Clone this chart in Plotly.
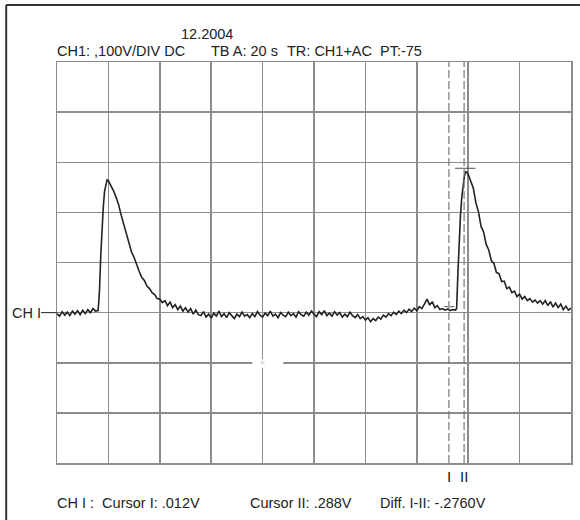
import plotly.graph_objects as go

# ---------------- data (read from the scope print) ----------------
time_s = [
    0, 1, 2, 3, 4, 5, 6, 7, 8, 9, 10, 11, 12, 13, 14, 15, 16,
    16.5, 17, 17.5, 18, 18.5, 19, 19.5,
    20, 21, 22, 23, 24, 25, 26, 27, 28, 29, 30, 31, 32, 33, 34, 35, 36, 37, 38, 39,
    40, 41, 42, 43, 44, 45, 46, 47, 48, 49, 50, 51, 52, 53, 54, 55,
    56, 57, 58, 59, 60, 61, 62, 63, 64, 65, 66, 67, 68, 69, 70, 71, 72, 73, 74, 75,
    76, 77, 78, 79, 80, 81, 82, 83, 84, 85, 86, 87, 88, 89, 90, 91, 92, 93, 94, 95,
    96, 97, 98, 99, 100, 101, 102, 103, 104, 105, 106, 107, 108, 109, 110, 111, 112,
    113, 114, 115, 116, 117, 118, 119, 120, 121, 122, 123, 124, 125, 126, 127, 128,
    129, 130, 131, 132, 133, 134, 135, 136, 137, 138, 139, 140, 141, 142, 143, 144,
    145, 146, 147, 148, 149, 150, 151, 152, 153, 154, 155,
    155.5, 156, 156.5, 157, 157.5, 158, 158.5, 159, 159.5,
    160, 161, 162, 163, 164, 165, 166, 167, 168, 169, 170, 171, 172, 173, 174, 175,
    176, 177, 178, 179, 180, 181, 182, 183, 184, 185, 186, 187, 188, 189, 190, 191,
    192, 193, 194, 195, 196, 197, 198, 199, 200,
]
ch1_volts = [
    -2, -7, 2, -5, 1, -6, 3, -3, 4, -4, 5, -2, 6, 0, 8, 3, 4,
    40, 110, 170, 210, 242, 258, 265,
    263, 254, 243, 230, 215, 194, 177, 155, 140, 121, 110, 94, 82, 70, 64, 53, 48, 40, 36, 28,
    27, 20, 24, 14, 21, 10, 16, 6, 13, 3, 10, 1, 8, -3, 5, -4,
    -6, 2, -9, -3, -11, -1, -7, 3, -8, -2, -10, 0, -6, -12, -3, -8, 1, -7, -4, -10,
    -2, -8, 2, -5, -9, -1, -6, 3, -7, -3, -10, 0, -5, -8, 1, -6, -2, -9, 2, -4,
    -7, 1, -5, 3, -3, -8, 2, -4, 4, -6, -1, -7, 2, -5, 0, -9, -3,
    -8, 1, -6, -10, -4, -12, -8, -15, -10, -18, -12, -16, -9, -13, -5, -9,
    -2, -6, 1, -4, 3, -2, 5, 0, 7, 2, 9, 4, 12, 8, 18, 27,
    15, 22, 10, 14, 6, 8, 5, 7, 4, 6, 5,
    8, 80, 145, 195, 230, 258, 272, 281, 280,
    276, 261, 248, 219, 201, 172, 161, 136, 125, 104, 98, 80, 78, 62, 63, 48,
    51, 40, 43, 32, 37, 27, 32, 24, 28, 21, 25, 19, 24, 17, 24, 14,
    22, 11, 19, 10, 17, 6, 13, 5, 9,
]
assert len(time_s) == len(ch1_volts)

cursor_names = ["I", "II"]
cursor_times = [152.5, 158.4]     # s
cursor_levels = [12, 288]         # V

header_date = "12.2004"
header_parts = ["CH1: ,100V/DIV DC", "TB A: 20 s", "TR: CH1+AC", "PT:-75"]
footer_parts = ["CH I :  Cursor I: .012V", "Cursor II: .288V", "Diff. I-II: -.2760V"]
channel_label = "CH I"

# ---------------- layout geometry ----------------
W, H = 580, 520
L, R, T, B = 57, 7, 62, 57
PW, PH = W - L - R, H - T - B


def px(x):
    return (x - L) / PW


def py(y):
    return (H - B - y) / PH


GRID = "#8c8c8c"
INK = "#222222"
FONT = "Liberation Sans, Arial, Helvetica, sans-serif"

fig = go.Figure()
fig.add_trace(go.Scatter(x=time_s, y=ch1_volts, mode="lines",
                         line=dict(color=INK, width=1.6), hoverinfo="skip",
                         showlegend=False))

axis_common = dict(showticklabels=False, ticks="", zeroline=False,
                   showgrid=True, gridcolor=GRID, gridwidth=1.5,
                   showline=True, mirror=True, linecolor=GRID, linewidth=1.5,
                   fixedrange=True)
fig.update_xaxes(range=[0, 200], dtick=20, tick0=0, **axis_common)
fig.update_yaxes(range=[-300, 500], dtick=100, tick0=-300, **axis_common)

shapes = []
# outer frame (top and left edge)
shapes.append(dict(type="line", xref="paper", yref="paper",
                   x0=px(6), x1=px(582), y0=py(5), y1=py(5),
                   line=dict(color="#333333", width=2)))
shapes.append(dict(type="line", xref="paper", yref="paper",
                   x0=px(6), x1=px(6), y0=py(5), y1=py(522),
                   line=dict(color="#333333", width=2)))
# channel marker line
shapes.append(dict(type="line", xref="paper", yref="y",
                   x0=px(41), x1=0, y0=0, y1=0,
                   line=dict(color=INK, width=1)))
# centre-cross gap
shapes.append(dict(type="line", xref="x", yref="y", x0=76, x1=88, y0=-100, y1=-100,
                   line=dict(color="white", width=3), layer="above"))
shapes.append(dict(type="line", xref="x", yref="y", x0=80, x1=80, y0=-93, y1=-110,
                   line=dict(color="white", width=3), layer="above"))
shapes.append(dict(type="line", xref="x", yref="y", x0=79.3, x1=80.7, y0=-100, y1=-100,
                   line=dict(color="#dddddd", width=3), layer="above"))

# cursors
for name, t, lvl in zip(cursor_names, cursor_times, cursor_levels):
    shapes.append(dict(type="line", xref="x", yref="paper", x0=t, x1=t, y0=0, y1=1,
                       line=dict(color="#777777", width=1.2, dash="8px,3px"),
                       layer="above"))
# level markers of the cursors
shapes.append(dict(type="line", xref="x", yref="y",
                   x0=cursor_times[0] - 1.8, x1=cursor_times[0] + 3.2,
                   y0=cursor_levels[0], y1=cursor_levels[0],
                   line=dict(color="#555555", width=1, dash="4px,2px"), layer="above"))
shapes.append(dict(type="line", xref="x", yref="y",
                   x0=cursor_times[1] - 3.5, x1=cursor_times[1] + 4.4,
                   y0=cursor_levels[1], y1=cursor_levels[1],
                   line=dict(color="#555555", width=1), layer="above"))

annotations = []


def txt(s, x, y, size=14.5, anchor="left"):
    annotations.append(dict(text=s, xref="paper", yref="paper", x=px(x), y=py(y),
                            xanchor=anchor, yanchor="middle", showarrow=False,
                            font=dict(family=FONT, size=size, color=INK),
                            borderpad=0))


txt(header_date, 180, 34)
for s, x in zip(header_parts, [56, 211, 287, 380]):
    txt(s, x, 51)
for s, x in zip(footer_parts, [56, 250, 380]):
    txt(s, x, 503)
txt(channel_label, 11, 313)
for name, t in zip(cursor_names, cursor_times):
    annotations.append(dict(text=name, xref="x", yref="paper", x=t, y=py(476),
                            xanchor="center", yanchor="middle", showarrow=False,
                            font=dict(family=FONT, size=15, color=INK)))

fig.update_layout(width=W, height=H, margin=dict(l=L, r=R, t=T, b=B),
                  paper_bgcolor="white", plot_bgcolor="white",
                  shapes=shapes, annotations=annotations, showlegend=False)

fig.write_html("out.html", config={"displayModeBar": False, "staticPlot": True},
               post_script="document.body.style.margin='0px';"
                           "document.body.style.overflow='hidden';")
